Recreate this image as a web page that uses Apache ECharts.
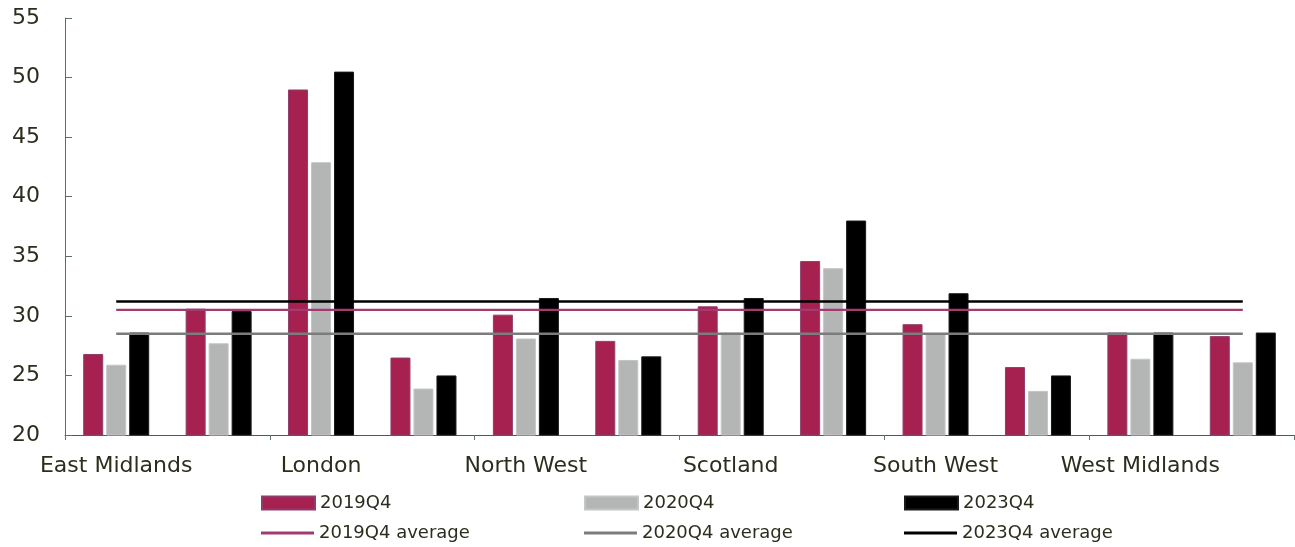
<!DOCTYPE html>
<html>
<head>
<meta charset="utf-8">
<script src="https://cdn.jsdelivr.net/npm/echarts@6/dist/echarts.min.js"></script>
<style>
	html,body{margin:0;padding:0;background:#fff;}
	#chart{width:1295px;height:547px;}
</style>
</head>
<body>
<div id="chart"></div>
<script>
var regions = ['East Midlands','East of England','London','North East','North West','Northern Ireland','Scotland','South East','South West','Wales','West Midlands','Yorkshire and the Humber'];
var q2019 = [26.8,30.6,49.0,26.5,30.1,27.9,30.8,34.6,29.3,25.7,28.6,28.3];
var q2020 = [25.9,27.7,42.9,23.9,28.1,26.3,28.6,34.0,28.5,23.7,26.4,26.1];
var q2023 = [28.6,30.4,50.5,25.0,31.5,26.6,31.5,38.0,31.9,25.0,28.6,28.6];
var avg2019 = [30.5,30.5,30.5,30.5,30.5,30.5,30.5,30.5,30.5,30.5,30.5,30.5];
var avg2020 = [28.5,28.5,28.5,28.5,28.5,28.5,28.5,28.5,28.5,28.5,28.5,28.5];
var avg2023 = [31.2,31.2,31.2,31.2,31.2,31.2,31.2,31.2,31.2,31.2,31.2,31.2];

var textColor = '#2d2d1e';
var fontName = 'DejaVu Sans';

function barSeries(name,data,color,border){
	return {
		name:name,
		type:'bar',
		data:data,
		barWidth:20,
		barGap:'15%',
		itemStyle:{color:color,borderColor:border,borderWidth:1},
		z:2
	};
}
function avgSeries(name,data,color,width){
	return {
		name:name,
		type:'line',
		data:data,
		symbol:'none',
		lineStyle:{color:color,width:width},
		itemStyle:{color:color},
		z:5
	};
}
// one legend per item so the columns line up like the original
function legendItem(name,left,top,h){
	return {
		data:[{name:name,icon:'rect'}],
		left:left,
		top:top,
		padding:0,
		itemWidth:53,
		itemHeight:h,
		itemGap:0,
		textStyle:{color:textColor,fontFamily:fontName,fontSize:18}
	};
}

var myChart = echarts.init(document.getElementById('chart'));
var option = {
	animation:false,
	grid:{left:65,right:1,top:18,bottom:112,containLabel:false},
	legend:[
		legendItem('2019Q4',261,494,13),
		legendItem('2020Q4',584,494,13),
		legendItem('2023Q4',904,494,13),
		legendItem('2019Q4 average',261,524,3),
		legendItem('2020Q4 average',584,524,3),
		legendItem('2023Q4 average',904,524,3)
	],
	xAxis:{
		type:'category',
		data:regions,
		axisLine:{lineStyle:{color:'#4a5e50',width:1}},
		axisTick:{show:true,length:5,lineStyle:{color:'#5b7a6a'}},
		axisLabel:{interval:1,color:textColor,fontFamily:fontName,fontSize:22,margin:20}
	},
	yAxis:{
		type:'value',
		min:20,
		max:55,
		interval:5,
		splitLine:{show:false},
		axisLine:{show:true,lineStyle:{color:'#5b6f62',width:1}},
		axisTick:{show:true,inside:true,length:7,lineStyle:{color:'#5b6f62'}},
		axisLabel:{color:textColor,fontFamily:fontName,fontSize:22,margin:25}
	},
	series:[
		barSeries('2019Q4',q2019,'#a6214f','#8f3d6d'),
		barSeries('2020Q4',q2020,'#b4b6b6','#c4c6c6'),
		barSeries('2023Q4',q2023,'#000000','#1a1a1a'),
		avgSeries('2019Q4 average',avg2019,'#a33a70',2.2),
		avgSeries('2020Q4 average',avg2020,'#7a7c7e',2.5),
		avgSeries('2023Q4 average',avg2023,'#000000',2.5)
	]
};
myChart.setOption(option);
</script>
</body>
</html>
